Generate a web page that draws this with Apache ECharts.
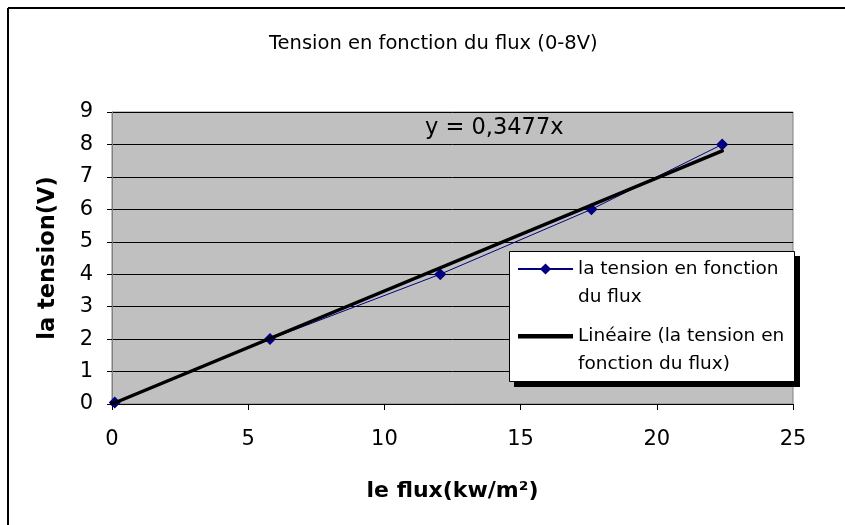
<!DOCTYPE html>
<html>
<head>
<meta charset="utf-8">
<script src="https://cdn.jsdelivr.net/npm/echarts@6/dist/echarts.min.js"></script>
<style>
html,body{margin:0;padding:0;background:#fff;}
#chart{width:845px;height:525px;}
</style>
</head>
<body>
<div id="chart"></div>
<script>
const fluxX = [0.1, 5.8, 12.05, 17.6, 22.4];
const tensionY = [0.05, 2, 4, 6, 8];
const trendX = [0, 22.4];
const trendY = [0, 7.8];
const xTicks = [0, 5, 10, 15, 20, 25];
const yTicks = [0, 1, 2, 3, 4, 5, 6, 7, 8, 9];
const seriesNames = ['la tension en fonction\ndu flux', 'Linéaire (la tension en\nfonction du flux)'];
const titleText = 'Tension en fonction du flux (0-8V)';
const equationText = 'y = 0,3477x';

const FONT = '"DejaVu Sans", "Liberation Sans", Arial, sans-serif';
const chart = echarts.init(document.getElementById('chart'), null, {renderer: 'canvas'});

const option = {
  animation: false,
  backgroundColor: '#fff',
  title: {
    text: titleText,
    left: 264, top: 29,
    textStyle: {fontFamily: FONT, fontSize: 19.5, fontWeight: 'normal', color: '#000'}
  },
  grid: {
    left: 112, right: 52, top: 112, bottom: 121,
    show: true, backgroundColor: '#C0C0C0', borderColor: '#808080', borderWidth: 1
  },
  xAxis: {
    type: 'value', min: xTicks[0], max: xTicks[xTicks.length - 1], interval: 5,
    name: 'le flux(kw/m²)', nameLocation: 'middle', nameGap: 76,
    nameTextStyle: {fontFamily: FONT, fontSize: 22, fontWeight: 'bold', color: '#000'},
    axisLine: {show: true, onZero: false, lineStyle: {color: '#000', width: 1}},
    axisTick: {show: true, inside: false, length: 6, lineStyle: {color: '#000'}},
    axisLabel: {fontFamily: FONT, fontSize: 21, color: '#000', margin: 25},
    splitLine: {show: false}
  },
  yAxis: {
    type: 'value', min: yTicks[0], max: yTicks[yTicks.length - 1], interval: 1,
    name: 'la tension(V)', nameLocation: 'middle', nameGap: 52,
    nameTextStyle: {fontFamily: FONT, fontSize: 22.5, fontWeight: 'bold', color: '#000'},
    axisLine: {show: true, lineStyle: {color: '#808080', width: 1}},
    axisTick: {show: true, inside: false, length: 5, lineStyle: {color: '#000'}},
    axisLabel: {fontFamily: FONT, fontSize: 21, color: '#000', margin: 19},
    splitLine: {show: true, lineStyle: {color: '#000', width: 1}}
  },
  legend: {
    orient: 'vertical', left: 517, top: 227, padding: 0, itemGap: -17, z: 20,
    itemWidth: 55, itemHeight: 14,
    data: [
      {name: seriesNames[0]},
      {name: seriesNames[1], icon: 'path://M0,0L0.01,0M0,5L55,5L55,9.5L0,9.5ZM0,14L0.01,14', itemStyle: {color: '#000', borderWidth: 0}}
    ],
    formatter: name => '\n' + name,
    textStyle: {fontFamily: FONT, fontSize: 18.5, color: '#000', lineHeight: 28}
  },
  graphic: [
    {type: 'rect', z: 10, shape: {x: 514, y: 256, width: 286, height: 131}, style: {fill: '#000'}},
    {type: 'rect', z: 11, shape: {x: 509.5, y: 251.5, width: 285, height: 130}, style: {fill: '#fff', stroke: '#000', lineWidth: 1}},
    {type: 'text', z: 12, left: 425, top: 117, style: {text: equationText, font: '22.5px ' + FONT, fill: '#000'}},
    {type: 'line', z: 12, shape: {x1: 8, y1: 8, x2: 845, y2: 8}, style: {stroke: '#000', lineWidth: 2}},
    {type: 'line', z: 12, shape: {x1: 8, y1: 8, x2: 8, y2: 525}, style: {stroke: '#000', lineWidth: 2}}
  ],
  series: [
    {
      name: seriesNames[0], type: 'line', z: 3,
      data: fluxX.map((x, i) => [x, tensionY[i]]),
      symbol: 'diamond', symbolSize: 12,
      lineStyle: {color: '#000080', width: 1},
      itemStyle: {color: '#000080'}
    },
    {
      name: seriesNames[1], type: 'line', z: 4,
      data: trendX.map((x, i) => [x, trendY[i]]),
      symbol: 'none',
      lineStyle: {color: '#000', width: 3.5, cap: 'round'},
      itemStyle: {color: '#000'}
    }
  ]
};
chart.setOption(option);
</script>
</body>
</html>
